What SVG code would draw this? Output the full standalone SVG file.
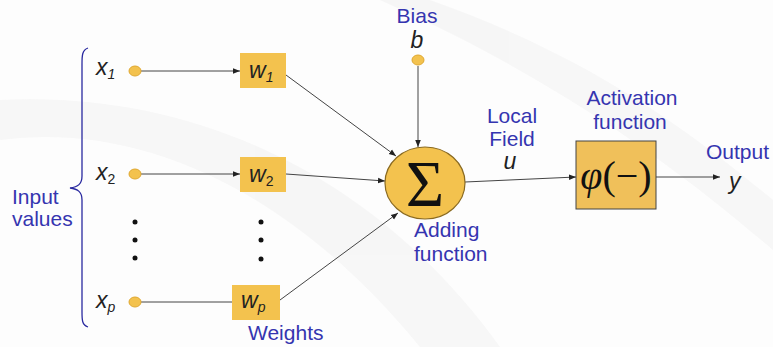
<svg xmlns="http://www.w3.org/2000/svg" width="773" height="347" viewBox="0 0 773 347">
<style>
.lbl{font-family:"Liberation Sans",Arial,sans-serif;font-size:21px;fill:#3535b0}
.var{font-family:"Liberation Sans",Arial,sans-serif;font-style:italic;font-size:23px;fill:#222}
.sub{font-size:14px}
.ln{stroke:#444;stroke-width:1;fill:none}
.node{fill:#f3c24e;stroke:#e0a830;stroke-width:1}
.dot{fill:#111}
</style>
<defs>
<marker id="ah" viewBox="0 0 10 10" refX="10" refY="5" markerWidth="7" markerHeight="7" orient="auto" markerUnits="userSpaceOnUse">
<path d="M0,1 L10,5 L0,9 z" fill="#222"/>
</marker>
</defs>
<rect width="773" height="347" fill="#fdfdfd"/>
<g opacity="0.4" fill="#eeeeee">
<path d="M0,140 C150,120 300,200 420,347 L500,347 C380,180 200,90 0,100 z"/>
<path d="M430,0 C600,60 700,140 773,200 L773,250 C680,170 560,80 380,0 z"/>
</g>
<g id="connectors">
<line class="ln" x1="141" y1="71" x2="240" y2="71" marker-end="url(#ah)"/>
<line class="ln" x1="141" y1="174" x2="240" y2="174" marker-end="url(#ah)"/>
<line class="ln" x1="141" y1="302" x2="232" y2="302"/>
<line class="ln" x1="286" y1="75" x2="396" y2="156" marker-end="url(#ah)"/>
<line class="ln" x1="286" y1="174" x2="385" y2="181" marker-end="url(#ah)"/>
<line class="ln" x1="280" y1="300" x2="398" y2="213" marker-end="url(#ah)"/>
<line class="ln" x1="418" y1="66" x2="418" y2="147" marker-end="url(#ah)"/>
<line class="ln" x1="465" y1="182" x2="576" y2="177" marker-end="url(#ah)"/>
<line class="ln" x1="656" y1="177" x2="720" y2="177" marker-end="url(#ah)"/>
</g>
<g id="brace">
<path d="M88,48 C82,50 82,56 82,64 L82,176 C82,184 78,187 70,188 C78,189 82,192 82,200 L82,312 C82,320 82,325 88,327" stroke="#2a2aa0" stroke-width="1.3" fill="none"/>
<text class="lbl" x="12" y="204">Input</text>
<text class="lbl" x="12" y="226">values</text>
</g>
<g id="x1">
<text class="var" x="96" y="75">x<tspan class="sub" dy="4">1</tspan></text>
<ellipse class="node" cx="135" cy="71" rx="6" ry="5"/>
</g>
<g id="x2">
<text class="var" x="96" y="180">x<tspan class="sub" dy="4" font-style="normal">2</tspan></text>
<ellipse class="node" cx="135" cy="174" rx="6" ry="5"/>
</g>
<g id="xdots">
<circle class="dot" cx="135" cy="222" r="2.5"/>
<circle class="dot" cx="135" cy="240" r="2.5"/>
<circle class="dot" cx="135" cy="258" r="2.5"/>
</g>
<g id="xp">
<text class="var" x="96" y="308">x<tspan class="sub" dy="4">p</tspan></text>
<ellipse class="node" cx="135" cy="302" rx="6" ry="5"/>
</g>
<g id="w1">
<rect x="240" y="53" width="46" height="35" fill="#f3c24e"/>
<text class="var" x="249" y="78">w<tspan class="sub" dy="4">1</tspan></text>
</g>
<g id="w2">
<rect x="240" y="157" width="46" height="35" fill="#f3c24e"/>
<text class="var" x="249" y="182">w<tspan class="sub" dy="4" font-style="normal">2</tspan></text>
</g>
<g id="wdots">
<circle class="dot" cx="261" cy="222" r="2.5"/>
<circle class="dot" cx="261" cy="240" r="2.5"/>
<circle class="dot" cx="261" cy="259" r="2.5"/>
</g>
<g id="wp">
<rect x="232" y="285" width="48" height="35" fill="#f3c24e"/>
<text class="var" x="241" y="308">w<tspan class="sub" dy="4">p</tspan></text>
<text class="lbl" x="248" y="340">Weights</text>
</g>
<g id="bias">
<text class="lbl" x="417" y="23" text-anchor="middle">Bias</text>
<text class="var" x="417" y="48" text-anchor="middle">b</text>
<ellipse class="node" cx="418" cy="60" rx="6" ry="5"/>
</g>
<g id="sum">
<ellipse cx="425" cy="183" rx="40" ry="36" fill="#f3c24e" stroke="#8a6a20" stroke-width="1.2"/>
<text x="425" y="206" text-anchor="middle" font-family="Liberation Serif,serif" font-size="66" fill="#111">Σ</text>
<text class="lbl" x="414" y="237">Adding</text>
<text class="lbl" x="414" y="261">function</text>
</g>
<g id="localfield">
<text class="lbl" x="512" y="123" text-anchor="middle">Local</text>
<text class="lbl" x="512" y="146" text-anchor="middle">Field</text>
<text class="var" x="510" y="169" text-anchor="middle">u</text>
</g>
<g id="activation">
<text class="lbl" x="632" y="105" text-anchor="middle">Activation</text>
<text class="lbl" x="630" y="129" text-anchor="middle">function</text>
<rect x="576" y="141" width="80" height="68" fill="#f0c05a" stroke="#444" stroke-width="1"/>
<text x="616" y="189" text-anchor="middle" font-family="Liberation Serif,serif" font-size="40" fill="#111"><tspan font-style="italic">φ</tspan>(−)</text>
</g>
<g id="output">
<text class="lbl" x="706" y="159">Output</text>
<text class="var" x="729" y="189" font-size="25">y</text>
</g>
</svg>
